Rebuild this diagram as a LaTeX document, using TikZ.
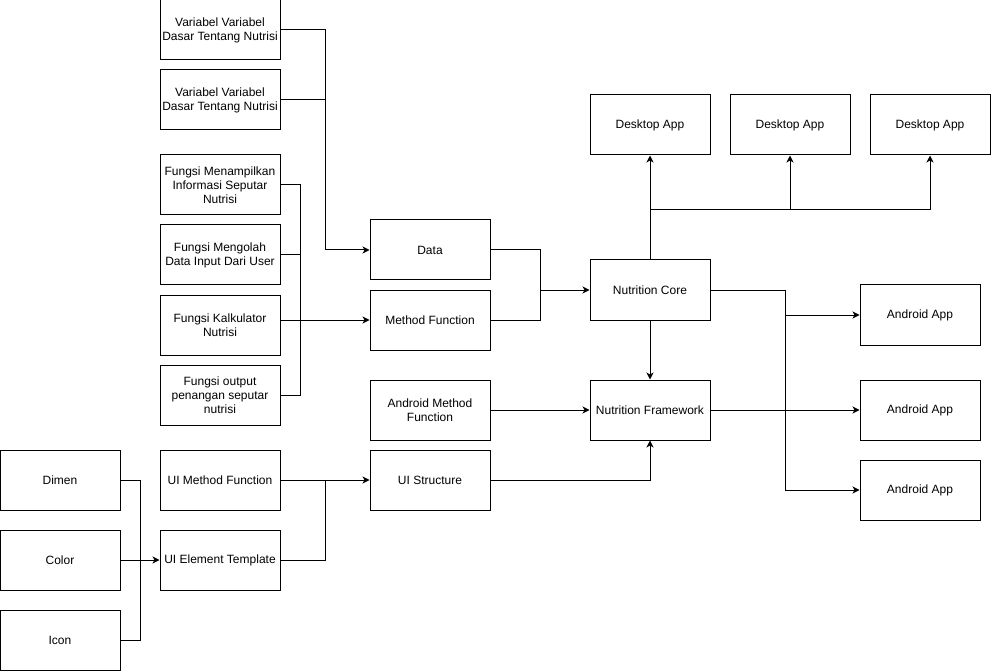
\documentclass[tikz,border=0pt]{standalone}
\usepackage{fontspec}
\setmainfont{Liberation Sans}
\usetikzlibrary{arrows.meta}
\begin{document}
\begin{tikzpicture}[x=1pt,y=-1pt,
  box/.style={draw=black,line width=1pt,minimum width=120pt,minimum height=60pt,inner sep=0pt,align=center,font=\fontsize{12}{14}\selectfont},
  conn/.style={line width=1pt,draw=black},
  arr/.style={conn,-{Stealth[length=7pt,width=7pt,inset=2pt]}}]
\useasboundingbox (0,0) rectangle (991,671);
% nodes
\node[box] (v1) at (220,30) {Variabel Variabel\\Dasar Tentang Nutrisi};
\node[box] (v2) at (220,100) {Variabel Variabel\\Dasar Tentang Nutrisi};
\node[box] (f1) at (220,185) {Fungsi Menampilkan\\Informasi Seputar\\Nutrisi};
\node[box] (f2) at (220,255) {Fungsi Mengolah\\Data Input Dari User};
\node[box] (f3) at (220,325) {Fungsi Kalkulator\\Nutrisi};
\node[box] (f4) at (220,395) {Fungsi output\\penangan seputar\\nutrisi};
\node[box] (data) at (430,250) {Data};
\node[box] (mf) at (430,320) {Method Function};
\node[box] (core) at (650,290) {Nutrition Core};
\node[box] (d1) at (650,125) {Desktop App};
\node[box] (d2) at (790,125) {Desktop App};
\node[box] (d3) at (930,125) {Desktop App};
\node[box] (a1) at (920,315) {Android App};
\node[box] (a2) at (920,410) {Android App};
\node[box] (a3) at (920,490) {Android App};
\node[box] (fw) at (650,410) {Nutrition Framework};
\node[box] (amf) at (430,410) {Android Method\\Function};
\node[box] (dimen) at (60,480) {Dimen};
\node[box] (color) at (60,560) {Color};
\node[box] (icon) at (60,640) {Icon};
\node[box] (uim) at (220,480) {UI Method Function};
\node[box] (uie) at (220,560) {UI Element Template};
\node[box] (uis) at (430,480) {UI Structure};
% junctions
\coordinate (vj) at (325,250);
\coordinate (fj) at (300,185);
\coordinate (cj) at (540,290);
\coordinate (dj) at (650,210);
\coordinate (aj) at (785,290);
\coordinate (uj) at (325,480);
\coordinate (cj2) at (140,560);
% connectors
\draw[arr] (v1.east) -| (vj) -- (data.west);
\draw[conn] (v2.east) -- (vj |- v2.east);
\draw[conn] (f1.east) -- (fj) -- (fj |- f4.east) -- (f4.east);
\draw[conn] (f2.east) -- (fj |- f2.east);
\draw[arr] (f3.east |- mf.west) -- (mf.west);
\draw[arr] (data.east) -| (cj) -- (core.west);
\draw[conn] (mf.east) -| (cj);
\draw[conn] (core.north) -- (dj);
\draw[arr] (dj) -- (d1.south);
\draw[arr] (dj) -| (d2.south);
\draw[arr] (dj) -| (d3.south);
\draw[arr] (core.south) -- (fw.north);
\draw[arr] (core.east) -- (aj) |- (a1.west);
\draw[arr] (aj) |- (a3.west);
\draw[arr] (fw.east) -- (a2.west);
\draw[arr] (amf.east) -- (fw.west);
\draw[arr] (uis.east) -| (fw.south);
\draw[arr] (uim.east) -- (uis.west);
\draw[conn] (uie.east) -| (uj);
\draw[conn] (dimen.east) -| (cj2);
\draw[conn] (icon.east) -| (cj2);
\draw[arr] (color.east) -- (uie.west);
\end{tikzpicture}
\end{document}
